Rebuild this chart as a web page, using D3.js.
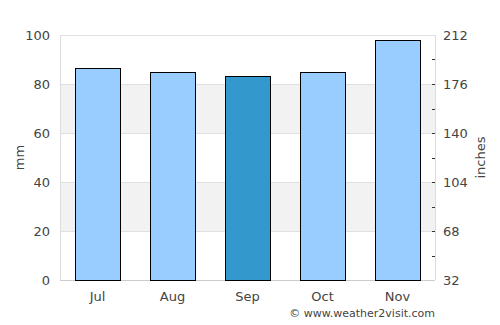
<!DOCTYPE html>
<html>
<head>
<meta charset="utf-8">
<script src="https://cdn.jsdelivr.net/npm/d3@7"></script>
<style>
  body { margin: 0; background: #fff; }
  text { font-family: "DejaVu Sans", sans-serif; fill: #444; }
</style>
</head>
<body>
<div id="chart"></div>
<script>
// data
const months = ['Jul', 'Aug', 'Sep', 'Oct', 'Nov'];
const rainfall = [86.5, 85, 83.3, 85, 98];
const highlight = 'Sep';
const leftTicks = [0, 20, 40, 60, 80, 100];
const rightTicks = [32, 68, 104, 140, 176, 212];

const width = 500, height = 325;
const margin = {top: 35, right: 65, bottom: 45, left: 60};
const plotW = width - margin.left - margin.right;
const plotH = height - margin.top - margin.bottom;

const svg = d3.select('#chart').append('svg')
    .attr('width', width)
    .attr('height', height);

const g = svg.append('g')
    .attr('transform', `translate(${margin.left},${margin.top})`);

const x = d3.scaleBand().domain(months).range([0, plotW])
    .paddingInner(0.4).paddingOuter(0.2);
const y = d3.scaleLinear().domain([0, 100]).range([plotH, 0]);
const y2 = d3.scaleLinear().domain([32, 212]).range([plotH, 0]);

// grey bands
g.selectAll('rect.band')
    .data([[20, 40], [60, 80]])
    .enter().append('rect')
    .attr('x', 0)
    .attr('width', plotW)
    .attr('y', d => y(d[1]))
    .attr('height', d => y(d[0]) - y(d[1]))
    .attr('fill', '#f2f2f2');

// gridlines
g.selectAll('line.grid')
    .data(leftTicks)
    .enter().append('line')
    .attr('x1', 0).attr('x2', plotW)
    .attr('y1', d => Math.round(y(d)) + 0.5)
    .attr('y2', d => Math.round(y(d)) + 0.5)
    .attr('stroke', '#e0e0e0');

// frame sides
g.append('line').attr('x1', 0.5).attr('x2', 0.5).attr('y1', 0).attr('y2', plotH).attr('stroke', '#ddd');
g.append('line').attr('x1', plotW + 0.5).attr('x2', plotW + 0.5).attr('y1', 0).attr('y2', plotH).attr('stroke', '#ddd');
g.append('line').attr('x1', 0).attr('x2', plotW).attr('y1', plotH + 0.5).attr('y2', plotH + 0.5).attr('stroke', '#ccc');

// bars
g.selectAll('rect.bar')
    .data(months)
    .enter().append('rect')
    .attr('class', 'bar')
    .attr('x', d => Math.round(x(d)) + 0.5)
    .attr('y', (d, i) => Math.round(y(rainfall[i])) + 0.5)
    .attr('width', Math.round(x.bandwidth()))
    .attr('height', (d, i) => Math.round(plotH - y(rainfall[i])))
    .attr('fill', d => d === highlight ? '#3399cc' : '#99ccff')
    .attr('stroke', '#000')
    .attr('stroke-width', 1);

// left axis labels
g.selectAll('text.yl')
    .data(leftTicks)
    .enter().append('text')
    .attr('x', -10)
    .attr('y', d => y(d))
    .attr('dy', '0.35em')
    .attr('text-anchor', 'end')
    .attr('font-size', 13)
    .text(d => d);

// right axis ticks (major + minor)
const minor = d3.range(50, 212, 36);
g.selectAll('line.rt')
    .data(rightTicks.slice(1, -1).concat(minor))
    .enter().append('line')
    .attr('x1', plotW - 3).attr('x2', plotW)
    .attr('y1', d => Math.round(y2(d)) + 0.5)
    .attr('y2', d => Math.round(y2(d)) + 0.5)
    .attr('stroke', '#333');

g.selectAll('text.yr')
    .data(rightTicks)
    .enter().append('text')
    .attr('x', plotW + 8)
    .attr('y', d => y2(d))
    .attr('dy', '0.35em')
    .attr('font-size', 13)
    .text(d => d);

// x labels
g.selectAll('text.xl')
    .data(months)
    .enter().append('text')
    .attr('x', d => x(d) + x.bandwidth() / 2)
    .attr('y', plotH + 21)
    .attr('text-anchor', 'middle')
    .attr('font-size', 13)
    .text(d => d);

// axis titles
svg.append('text')
    .attr('transform', `translate(24,${margin.top + plotH / 2}) rotate(-90)`)
    .attr('text-anchor', 'middle')
    .attr('font-size', 13)
    .text('mm');
svg.append('text')
    .attr('transform', `translate(485,${margin.top + plotH / 2}) rotate(-90)`)
    .attr('text-anchor', 'middle')
    .attr('font-size', 13)
    .text('inches');

svg.append('text')
    .attr('x', margin.left + plotW)
    .attr('y', 317)
    .attr('text-anchor', 'end')
    .attr('font-size', 11)
    .text('© www.weather2visit.com');
</script>
</body>
</html>
